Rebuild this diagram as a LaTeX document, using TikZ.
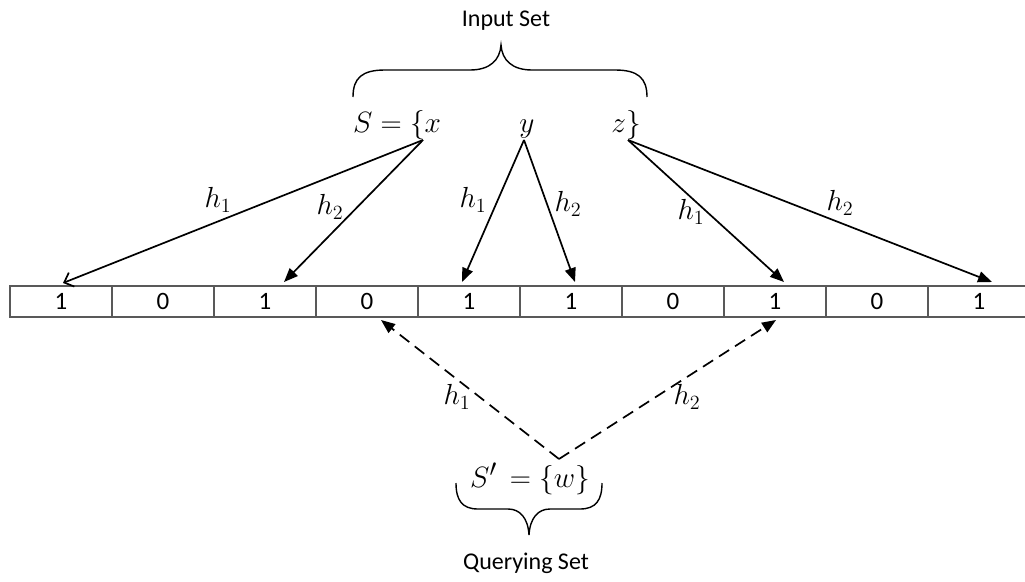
\documentclass[tikz,border=0pt]{standalone}
\usepackage{fontspec}
\setmainfont{Carlito}
\usetikzlibrary{arrows.meta}
\begin{document}
\begin{tikzpicture}[x=1pt,y=-1pt,
  cell/.style={draw=black!65,line width=1.1pt,minimum width=102pt,minimum height=31pt,inner sep=0pt,outer sep=0pt,font=\fontsize{25}{28}\selectfont},
  lab/.style={font=\fontsize{20.74}{24}\selectfont,inner sep=0pt},
  setx/.style={font=\fontsize{24.88}{30}\selectfont,inner sep=0pt},
  captext/.style={font=\fontsize{24}{28}\selectfont,inner sep=0pt},
  arr/.style={line width=1.7pt,-{Triangle[length=14pt,width=11pt]}},
  openarr/.style={line width=1.7pt,-{Straight Barb[length=8pt,width=15pt]}},
  darr/.style={arr,dash pattern=on 12pt off 7pt},
  brace/.style={line width=1.4pt}]
\useasboundingbox (0,0) rectangle (1025,581);
\clip (0,0) rectangle (1025,581);
% array
\foreach \v [count=\i] in {1,0,1,0,1,1,0,1,0,1}
  \node[cell] (c\i) at ({10+102*(\i-0.5)},301.5) {\v};
% texts
\node[captext] (inp) at (506,21) {Input Set};
\node[setx,anchor=base west] (sx) at (353,132) {\scalebox{1.18}{$S=\{x$}};
\node[setx,anchor=base] (sy) at (527,132) {\scalebox{1.18}{$y$}};
\node[setx,anchor=base east] (sz) at (641,132) {\scalebox{1.18}{$z\}$}};
\node[setx,anchor=base west] (sp) at (470,487) {\scalebox{1.18}{$S^{\prime}\,=\{w\}$}};
\node[captext] (qry) at (526,563) {Querying Set};
% braces
\draw[brace] (353,97) .. controls (353,78) and (362,70) .. (385,70) -- (470,70) .. controls (490,70) and (500,60) .. (501,45) .. controls (502,60) and (512,70) .. (532,70) -- (615,70) .. controls (638,70) and (647,78) .. (647,97);
\draw[brace] (456,483) .. controls (456,500) and (462,509) .. (478,509) -- (508,509) .. controls (520,509) and (528,518) .. (529,535) .. controls (530,518) and (538,509) .. (550,509) -- (580,509) .. controls (596,509) and (602,500) .. (602,483);
% connector end points
\coordinate (xo) at (423,140);
\coordinate (yo) at (524,140);
\coordinate (zo) at (628,140);
\coordinate (wo) at (559,459);
\coordinate (e1) at (63,283);
\coordinate (e3) at (284,282);
\coordinate (e5) at (462,282);
\coordinate (e6) at (575,282);
\coordinate (e8) at (784,282);
\coordinate (e10) at (992,282);
\coordinate (d4) at (381,320);
\coordinate (d8) at (776,320);
% arrows
\draw[openarr] (xo) -- (e1);
\draw[arr] (xo) -- (e3);
\draw[arr] (yo) -- (e5);
\draw[arr] (yo) -- (e6);
\draw[arr] (zo) -- (e8);
\draw[arr] (zo) -- (e10);
\draw[darr] (wo) -- (d4);
\draw[darr] (wo) -- (d8);
% labels
\node[lab] (l1) at (218,200) {\scalebox{1.4}{$h_1$}};
\node[lab] (l2) at (330,207) {\scalebox{1.4}{$h_2$}};
\node[lab] (l3) at (473,200) {\scalebox{1.4}{$h_1$}};
\node[lab] (l4) at (568,204) {\scalebox{1.4}{$h_2$}};
\node[lab] (l5) at (691,212) {\scalebox{1.4}{$h_1$}};
\node[lab] (l6) at (840,203) {\scalebox{1.4}{$h_2$}};
\node[lab] (l7) at (457,397) {\scalebox{1.4}{$h_1$}};
\node[lab] (l8) at (687,397) {\scalebox{1.4}{$h_2$}};
\end{tikzpicture}
\end{document}
